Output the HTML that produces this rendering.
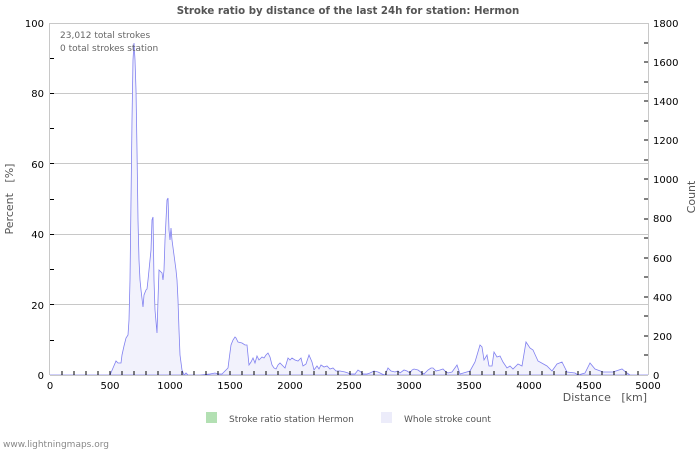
<!DOCTYPE html>
<html><head><style>
body{margin:0;background:#fff;}
svg{display:block;font-family:"DejaVu Sans","Liberation Sans",sans-serif;}
</style></head><body>
<svg width="700" height="450" viewBox="0 0 700 450">
<rect width="700" height="450" fill="#fff"/>
<text x="348" y="14" text-anchor="middle" font-size="10.2" font-weight="bold" fill="#555">Stroke ratio by distance of the last 24h for station: Hermon</text>
<g stroke="#c8c8c8" stroke-width="1">
<line x1="50" y1="93.5" x2="648" y2="93.5"/>
<line x1="50" y1="163.5" x2="648" y2="163.5"/>
<line x1="50" y1="234.5" x2="648" y2="234.5"/>
<line x1="50" y1="304.5" x2="648" y2="304.5"/>
<line x1="50" y1="23.5" x2="648" y2="23.5"/>
<line x1="49.5" y1="23" x2="49.5" y2="375"/>
<line x1="648.5" y1="23" x2="648.5" y2="375"/>
</g>
<polygon fill="#f2f2fc" stroke="#8080f0" stroke-width="0.8" points="50,375 110,375 113,368 116,361 118,363 121,363 122,355 124,346 126,338 128,335 129,320 130,280 131,200 132,120 133,60 134,43 135,60 136,90 137,150 138,220 139,260 140,280 141,290 143,307 144,295 146,290 147,289 148,280 149,270 151,250 152,220 153,217 154,280 155,310 157,333 158,300 159,270 160,271 162,273 163,280 164,270 165,240 166,220 167,200 168,198 169,230 170,240 171,228 172,240 174,255 176,270 177,280 178,300 179,330 180,355 182,370 184,375 186,373 188,375 200,375 210,374 215,373 218,374 222,374 226,370 228,368 229,360 231,345 233,340 235,337 236,338 238,342 242,343 245,345 247,345 248,355 249,365 251,362 253,358 255,363 257,356 259,360 262,357 264,358 266,355 268,353 270,357 272,365 274,368 276,369 278,365 280,363 285,368 288,358 290,360 292,358 295,360 298,361 301,358 303,366 306,364 309,355 312,362 314,370 317,366 319,369 321,365 324,367 327,366 330,369 333,368 336,371 340,371 345,372 348,373 350,374 352,374 355,374 358,370 361,372 363,374 367,374 370,373 374,371 378,372 382,374 385,375 388,368 391,371 395,372 398,371 400,373 404,370 407,371 410,373 412,370 414,369 418,370 422,373 424,374 425,373 428,370 431,368 433,368 436,371 440,370 443,369 446,372 448,373 452,372 457,365 460,374 470,371 475,362 480,345 482,347 484,360 487,355 489,366 492,366 494,352 497,357 500,356 503,362 507,368 510,366 513,369 518,364 522,366 526,342 530,348 533,350 538,361 547,366 552,371 557,364 562,362 567,372 575,373 578,375 585,373 590,363 595,369 603,372 613,372 622,369 627,373 630,375 648,375"/>
<line x1="50" y1="375.5" x2="648" y2="375.5" stroke="#c8c8c8"/>
<g stroke="#000" stroke-width="1">
<path d="M62,375v-4M74,375v-4M86,375v-4M98,375v-4M110,375v-4M122,375v-4M134,375v-4M146,375v-4M158,375v-4M170,375v-4M182,375v-4M194,375v-4M206,375v-4M218,375v-4M230,375v-4M242,375v-4M254,375v-4M266,375v-4M278,375v-4M290,375v-4M302,375v-4M314,375v-4M326,375v-4M338,375v-4M350,375v-4M362,375v-4M374,375v-4M386,375v-4M398,375v-4M410,375v-4M422,375v-4M434,375v-4M446,375v-4M458,375v-4M470,375v-4M482,375v-4M494,375v-4M506,375v-4M518,375v-4M530,375v-4M542,375v-4M554,375v-4M566,375v-4M578,375v-4M590,375v-4M602,375v-4M614,375v-4M626,375v-4M638,375v-4"/>
<path d="M50,58.5h4M50,93.5h4M50,128.5h4M50,163.5h4M50,199.5h4M50,234.5h4M50,269.5h4M50,304.5h4M50,340.5h4"/>
<path d="M644,43h4M644,62h4M644,82h4M644,101h4M644,121h4M644,140h4M644,160h4M644,179h4M644,199h4M644,219h4M644,238h4M644,258h4M644,277h4M644,297h4M644,316h4M644,336h4M644,355h4"/>
</g>
<g font-size="10" fill="#000" text-anchor="end">
<text x="44" y="27">100</text><text x="44" y="97">80</text><text x="44" y="168">60</text><text x="44" y="238">40</text><text x="44" y="309">20</text><text x="44" y="379">0</text>
</g>
<g font-size="10" fill="#000" text-anchor="start">
<text x="653" y="27">1800</text><text x="653" y="66">1600</text><text x="653" y="105">1400</text><text x="653" y="144">1200</text><text x="653" y="183">1000</text><text x="653" y="222">800</text><text x="653" y="262">600</text><text x="653" y="301">400</text><text x="653" y="340">200</text><text x="653" y="379">0</text>
</g>
<g font-size="10" fill="#000" text-anchor="middle">
<text x="50" y="389">0</text><text x="110" y="389">500</text><text x="170" y="389">1000</text><text x="230" y="389">1500</text><text x="290" y="389">2000</text><text x="349" y="389">2500</text><text x="409" y="389">3000</text><text x="469" y="389">3500</text><text x="529" y="389">4000</text><text x="589" y="389">4500</text><text x="648" y="389">5000</text>
</g>
<text x="647" y="401" text-anchor="end" font-size="11" fill="#555" xml:space="preserve">Distance   [km]</text>
<text transform="translate(13,199) rotate(-90)" text-anchor="middle" font-size="11" fill="#555" xml:space="preserve">Percent   [%]</text>
<text transform="translate(695,197) rotate(-90)" text-anchor="middle" font-size="11" fill="#555">Count</text>
<text x="60" y="38" font-size="9" fill="#666">23,012 total strokes</text>
<text x="60" y="51" font-size="9" fill="#666">0 total strokes station</text>
<rect x="206" y="412" width="11" height="11" fill="#b3e0b3"/>
<text x="229" y="422" font-size="9" fill="#555">Stroke ratio station Hermon</text>
<rect x="381" y="412" width="11" height="11" fill="#ececfa"/>
<text x="404" y="422" font-size="9" fill="#555">Whole stroke count</text>
<text x="3" y="447" font-size="9" fill="#888">www.lightningmaps.org</text>
</svg>
</body></html>
